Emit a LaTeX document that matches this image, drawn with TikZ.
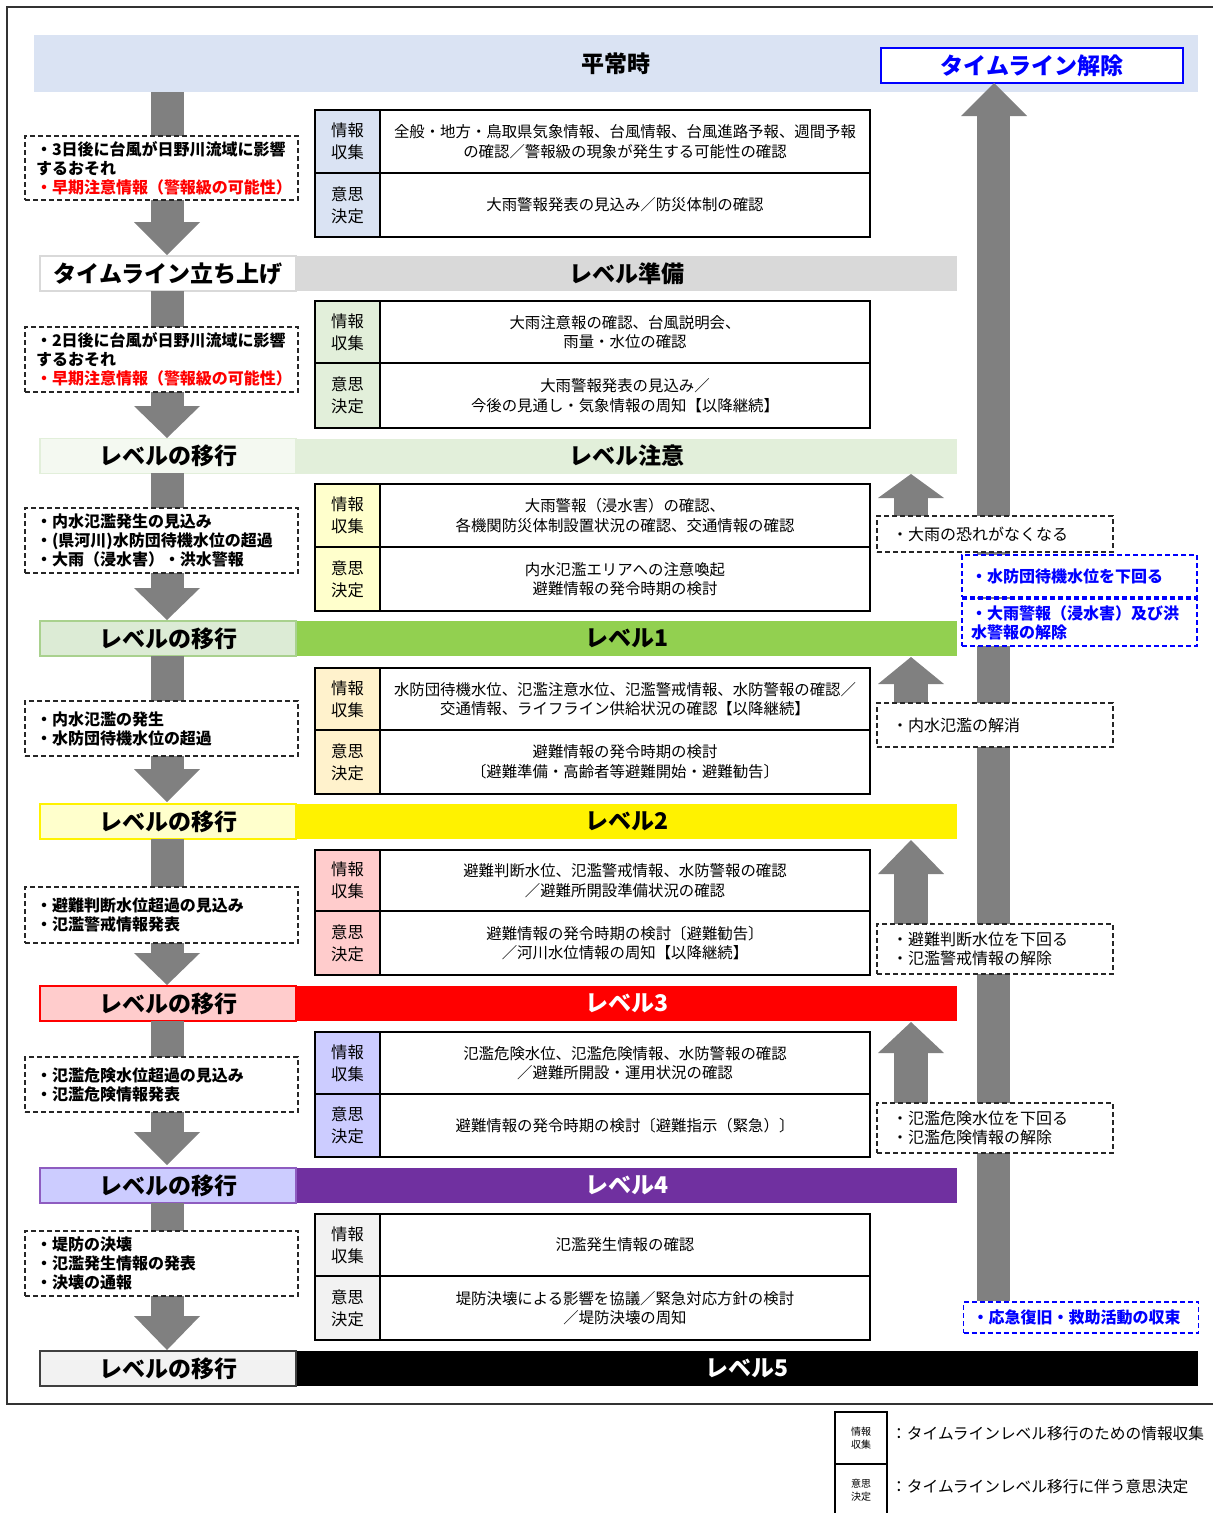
\documentclass[tikz,border=0pt]{standalone}
\usepackage{fontspec}
\setmainfont{Noto Sans CJK JP}
\definecolor{agray}{HTML}{808080}
\definecolor{cblue}{HTML}{DAE3F3}
\definecolor{cgreenL}{HTML}{E2EFDA}
\definecolor{cyelL}{HTML}{FFFFCC}
\definecolor{corL}{HTML}{FFF2CC}
\definecolor{cpinkL}{HTML}{FFCCCC}
\definecolor{clavL}{HTML}{CCCCFF}
\definecolor{cgrayL}{HTML}{F2F2F2}
\definecolor{cprep}{HTML}{D9D9D9}
\definecolor{cgreen1}{HTML}{92D050}
\definecolor{cgreen1L}{HTML}{DCEBD5}
\definecolor{cgreen1B}{HTML}{A9D18E}
\definecolor{cwarnL}{HTML}{F4F9F1}
\definecolor{cpurple}{HTML}{7030A0}
\definecolor{cpurpleB}{HTML}{8E5CC0}
\definecolor{tblue}{HTML}{0000FF}
\newcommand\tblock[7]{%
 \pgfmathsetmacro\tbha{#3-#2}%
 \pgfmathsetmacro\tbhb{#4-#3}%
 \pgfmathsetmacro\tbca{(#2+#3)/2}%
 \pgfmathsetmacro\tbcb{(#3+#4)/2}%
 \node[txtcell, minimum height=\tbha] (#1ib) at (625,\tbca) {#6};
 \node[txtcell, minimum height=\tbhb] (#1db) at (625,\tbcb) {#7};
 \node[labcell, fill=#5, minimum height=\tbha] (#1ia) at (347.5,\tbca) {情報\\収集};
 \node[labcell, fill=#5, minimum height=\tbhb] (#1da) at (347.5,\tbcb) {意思\\決定};
}
\newcommand\dnarrowshape[3]{%
 \fill[agray] (150.5,#1) rectangle (183.5,#2);
 \fill[agray] (134,#2) -- (200,#2) -- (167,#3) -- cycle;}
\newcommand\uparrowshape[3]{%
 \fill[agray] (894,#2) rectangle (928,#3);
 \fill[agray] (878,#2) -- (944,#2) -- (911,#1) -- cycle;}
\begin{document}
\begin{tikzpicture}[x=1pt,y=-1pt,
 bandtext/.style={inner sep=0pt, minimum height=35, font=\fontsize{23}{27}\selectfont\bfseries},
 leftband/.style={bandtext, minimum width=256, line width=1.5pt},
 rightband/.style={bandtext, minimum width=661},
 labcell/.style={draw=black, line width=1.2pt, minimum width=65, inner sep=0pt, align=center, font=\fontsize{16.3}{22}\selectfont},
 txtcell/.style={draw=black, line width=1.2pt, minimum width=490, inner sep=0pt, align=center, font=\fontsize{15.4}{19.5}\selectfont},
 ldash/.style={draw=black!85, dash pattern=on 5pt off 3pt, line width=1.1pt, fill=white, minimum width=273, text width=251, inner xsep=11pt, inner ysep=0pt, align=left, font=\fontsize{16}{19}\selectfont\bfseries},
 rdash/.style={draw=black!85, dash pattern=on 5pt off 3pt, line width=1.1pt, fill=white, minimum width=236, text width=206, inner xsep=15pt, inner ysep=0pt, align=left, font=\fontsize{16}{19}\selectfont},
 bdash/.style={draw=tblue, dash pattern=on 5pt off 3pt, line width=1.1pt, fill=white, minimum width=235, text width=217, inner xsep=9pt, inner ysep=0pt, align=left, text=tblue, font=\fontsize{16}{19}\selectfont\bfseries}
]
\useasboundingbox (0,0) rectangle (1213,1513);
\fill[white] (0,0) rectangle (1213,1513);
\draw[line width=1.2pt, black!80] (7,7) rectangle (1230,1404);

% top band
\node[bandtext, fill=cblue, minimum width=1164, minimum height=57] (b0) at (616,63.5) {平常時};
\node[bandtext, draw=tblue, line width=1.5pt, fill=white, minimum width=302, text=tblue] (tlend) at (1032,65.5) {タイムライン解除};

% level bands
\node[rightband, fill=cprep] (b1r) at (626.5,273.5) {レベル準備};
\node[leftband, fill=white, draw=cprep] (b1l) at (168,273.5) {タイムライン立ち上げ};
\node[rightband, fill=cgreenL] (b2r) at (626.5,456) {レベル注意};
\node[leftband, fill=cwarnL, draw=cgreenL] (b2l) at (168,456) {レベルの移行};
\node[rightband, fill=cgreen1] (b3r) at (626.5,638.5) {レベル1};
\node[leftband, fill=cgreen1L, draw=cgreen1B] (b3l) at (168,638.5) {レベルの移行};
\node[rightband, fill=yellow] (b4r) at (626.5,821.5) {レベル2};
\node[leftband, fill=cyelL, draw=yellow] (b4l) at (168,821.5) {レベルの移行};
\node[rightband, fill=red, text=white] (b5r) at (626.5,1003.5) {レベル3};
\node[leftband, fill=cpinkL, draw=red] (b5l) at (168,1003.5) {レベルの移行};
\node[rightband, fill=cpurple, text=white] (b6r) at (626.5,1185.5) {レベル4};
\node[leftband, fill=clavL, draw=cpurpleB] (b6l) at (168,1185.5) {レベルの移行};
\node[bandtext, minimum width=902, fill=black, text=white] (b7r) at (747,1368.5) {レベル5};
\node[leftband, fill=cgrayL, draw=black!75] (b7l) at (168,1368.5) {レベルの移行};

% big return arrow
\fill[agray] (977,116) rectangle (1010,1301);
\fill[agray] (961,116) -- (1027,116) -- (994,83) -- cycle;

% down arrows
\dnarrowshape{92}{222}{255}
\dnarrowshape{291}{406}{438}
\dnarrowshape{473}{588}{620}
\dnarrowshape{656}{769}{802}
\dnarrowshape{839}{953}{985}
\dnarrowshape{1021}{1132}{1165}
\dnarrowshape{1203}{1316}{1350}

% small up arrows
\uparrowshape{474}{498}{516}
\uparrowshape{657}{684}{703}
\uparrowshape{840}{874}{924}
\uparrowshape{1022}{1053}{1103}

% left trigger boxes
\node[ldash, minimum height=64] (d1) at (161.5,168) {・3日後に台風が日野川流域に影響\\するおそれ\\\textcolor{red}{・早期注意情報（警報級の可能性）}};
\node[ldash, minimum height=65] (d2) at (161.5,359.5) {・2日後に台風が日野川流域に影響\\するおそれ\\\textcolor{red}{・早期注意情報（警報級の可能性）}};
\node[ldash, minimum height=65] (d3) at (161.5,540.5) {・内水氾濫発生の見込み\\・(県河川)水防団待機水位の超過\\・大雨（浸水害）・洪水警報};
\node[ldash, minimum height=55] (d4) at (161.5,728.5) {・内水氾濫の発生\\・水防団待機水位の超過};
\node[ldash, minimum height=56] (d5) at (161.5,915) {・避難判断水位超過の見込み\\・氾濫警戒情報発表};
\node[ldash, minimum height=55] (d6) at (161.5,1084.5) {・氾濫危険水位超過の見込み\\・氾濫危険情報発表};
\node[ldash, minimum height=65] (d7) at (161.5,1263.5) {・堤防の決壊\\・氾濫発生情報の発表\\・決壊の通報};

% right release boxes
\node[rdash, minimum height=36] (r1) at (995,534) {・大雨の恐れがなくなる};
\node[rdash, minimum height=44] (r2) at (995,725) {・内水氾濫の解消};
\node[rdash, minimum height=50] (r3) at (995,949) {・避難判断水位を下回る\\・氾濫警戒情報の解除};
\node[rdash, minimum height=50] (r4) at (995,1128) {・氾濫危険水位を下回る\\・氾濫危険情報の解除};
\node[bdash, minimum height=42] (bl1) at (1079.5,576) {・水防団待機水位を下回る};
\node[bdash, minimum height=47] (bl2) at (1079.5,622.5) {・大雨警報（浸水害）及び洪\\水警報の解除};
\node[bdash, minimum height=31] (bl3) at (1081,1317.5) {・応急復旧・救助活動の収束};

% tables
\tblock{t1}{110}{173}{237}{cblue}{全般・地方・鳥取県気象情報、台風情報、台風進路予報、週間予報\\の確認／警報級の現象が発生する可能性の確認}{大雨警報発表の見込み／防災体制の確認}
\tblock{t2}{301}{363}{428}{cgreenL}{大雨注意報の確認、台風説明会、\\雨量・水位の確認}{大雨警報発表の見込み／\\今後の見通し・気象情報の周知【以降継続】}
\tblock{t3}{484}{547}{611}{cyelL}{大雨警報（浸水害）の確認、\\各機関防災体制設置状況の確認、交通情報の確認}{内水氾濫エリアへの注意喚起\\避難情報の発令時期の検討}
\tblock{t4}{668}{730}{794}{corL}{水防団待機水位、氾濫注意水位、氾濫警戒情報、水防警報の確認／\\交通情報、ライフライン供給状況の確認【以降継続】}{避難情報の発令時期の検討\\〔避難準備・高齢者等避難開始・避難勧告〕}
\tblock{t5}{850}{911}{975}{cpinkL}{避難判断水位、氾濫警戒情報、水防警報の確認\\／避難所開設準備状況の確認}{避難情報の発令時期の検討〔避難勧告〕\\／河川水位情報の周知【以降継続】}
\tblock{t6}{1032}{1094}{1157}{clavL}{氾濫危険水位、氾濫危険情報、水防警報の確認\\／避難所開設・運用状況の確認}{避難情報の発令時期の検討〔避難指示（緊急）〕}
\tblock{t7}{1214}{1276}{1340}{cgrayL}{氾濫発生情報の確認}{堤防決壊による影響を協議／緊急対応方針の検討\\／堤防決壊の周知}

% legend
\node[draw=black, line width=1.2pt, minimum width=52, minimum height=52, inner sep=0pt, align=center, font=\fontsize{10}{12.5}\selectfont] (lg1) at (861,1438) {情報\\収集};
\node[draw=black, line width=1.2pt, minimum width=52, minimum height=52, inner sep=0pt, align=center, font=\fontsize{10}{12.5}\selectfont] (lg2) at (861,1490) {意思\\決定};
\node[anchor=west, inner sep=0pt, font=\fontsize{15.7}{19}\selectfont] (lg1t) at (891,1434) {：タイムラインレベル移行のための情報収集};
\node[anchor=west, inner sep=0pt, font=\fontsize{15.7}{19}\selectfont] (lg2t) at (891,1487) {：タイムラインレベル移行に伴う意思決定};
\end{tikzpicture}
\end{document}
